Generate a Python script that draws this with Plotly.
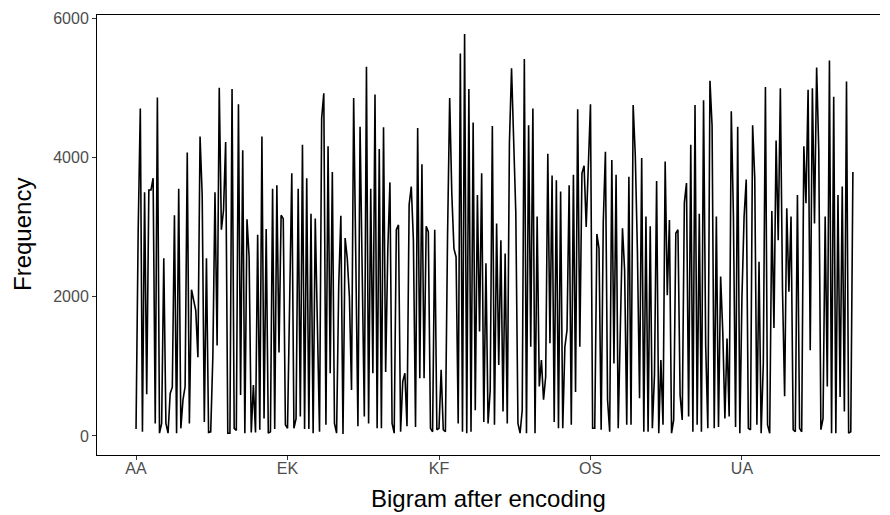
import plotly.graph_objects as go

# frequency of each bigram after encoding, in bigram order
freq_a = [100, 2950, 4700, 60, 3500, 600, 3530, 3530, 3700, 180, 4860, 40, 180, 2550, 180, 40,
          610, 700, 3170, 40, 3550, 110, 520, 710, 4070, 180, 2100, 1950]
freq_b = [1800, 1130, 4300, 3460, 200, 2550, 50, 60, 1140, 3500, 1300, 5000, 2960, 3240, 4220, 40,
          40, 4980, 110, 80, 4760, 590, 4100, 40, 3110, 2570, 50]
freq_c = [730, 50, 2890, 90, 4300, 250, 2970, 40, 60, 3550, 100, 3600, 1200, 3170, 3120, 160,
          110, 2190, 3770, 110, 250, 3550, 280, 4180, 100]
freq_d = [3700, 100, 3190, 40, 3120, 1330, 60, 4560, 4920, 160, 4160, 900, 3790, 180, 40, 2170,
          3160, 30, 2840, 2550, 2000, 660, 4850, 2550, 140, 4440, 2600, 280]
freq_e = [5300, 180, 3550, 900, 4900, 110, 4120, 110, 4430, 920, 2670, 3640, 180, 40, 2960, 3030,
          60, 780, 900, 140, 3320, 3580, 2810, 130, 4420, 830, 3900, 830, 3010, 2930, 110, 60,
          2960, 90, 110, 950]
freq_f = [90, 60, 2860, 4850, 3480, 2690, 2570, 180, 5490, 60, 5770, 40, 4980, 60, 4500, 370,
          3460, 1500, 3770, 200, 2480, 180, 660, 4450, 160]
freq_g = [3050, 1020, 2810, 350, 2620, 180, 4200, 5280, 4060, 3200, 180, 40, 370, 5410, 40, 4460,
          1280, 4700, 40, 3150, 710, 1090, 520, 850, 4050, 1330, 3740, 200, 3670, 110, 3510]
freq_h = [110, 1280, 1520, 3600, 160, 3750, 630, 4690, 1280, 3770, 3880, 3000, 3850, 4760, 110,
          110, 2900, 2690, 90, 3080, 4080, 520, 60, 3960, 1040, 3750, 110, 1430, 2980]
freq_i = [2380, 160, 3720, 160, 4750, 4030, 2650, 540, 3990, 60, 3150, 60, 3010, 110, 880, 3660,
          40, 1090, 160, 3940, 2020, 3100, 40, 230, 2910, 2960, 590, 230, 3350, 3630, 280, 4180, 60]
freq_j = [4750, 160, 3190, 60, 4820, 1300, 110, 5100, 4450, 110, 3150, 130, 2290, 1500, 250, 1400,
          280, 4660, 3150, 130, 4440, 40, 2000, 3150, 3680, 110, 90]
freq_k = [4460, 3700, 160, 2500, 40, 1040, 5010, 160, 40, 3230, 1550, 4240, 2810, 4990, 2100, 570,
          3270, 2070, 3150, 90, 60, 3460, 110, 60, 4160, 3340, 4970, 1230, 4990]
freq_l = [3050, 5290, 4100, 90, 250, 3150, 710, 5390, 40, 4870, 40, 3460, 560, 3580, 350, 5090,
          40, 60, 3790]

frequency = (freq_a + freq_b + freq_c + freq_d + freq_e + freq_f + freq_g + freq_h + freq_i
             + freq_j + freq_k + freq_l)
bigram_pos = list(range(len(frequency)))

# only every 71st bigram gets a label
tick_labels = ["AA", "EK", "KF", "OS", "UA"]
tick_step = 71
tick_pos = [i * tick_step for i in range(len(tick_labels))]

y_ticks = [0, 2000, 4000, 6000]

fig = go.Figure()
fig.add_trace(go.Scatter(x=bigram_pos, y=frequency, mode="lines",
                         line=dict(color="black", width=1.6), showlegend=False))

# page body adds an 8px offset, margins account for it
fig.update_layout(
    width=890, height=515,
    margin=dict(l=89, r=18, t=7, b=68),
    paper_bgcolor="white", plot_bgcolor="white",
    font=dict(family="Liberation Sans, Arial, sans-serif", color="black"),
)
fig.update_xaxes(
    range=[-18.3, 348.7], tickvals=tick_pos, ticktext=tick_labels, automargin=False,
    showgrid=False, zeroline=False, showline=True, linecolor="black", linewidth=1,
    mirror=True, ticks="outside", ticklen=4, tickcolor="#333333", ticklabelstandoff=-5,
    tickfont=dict(size=16, color="#4d4d4d"),
)
fig.update_yaxes(
    range=[-273, 6043], tickvals=y_ticks, automargin=False,
    showgrid=False, zeroline=False, showline=True, linecolor="black", linewidth=1,
    ticks="outside", ticklen=4, tickcolor="#333333",
    tickfont=dict(size=16, color="#4d4d4d"),
)

# axis titles placed as annotations for exact positioning
fig.add_annotation(text="Bigram after encoding", xref="paper", yref="paper",
                   x=0.5, y=-0.098, xanchor="center", yanchor="middle",
                   showarrow=False, font=dict(size=24, color="black"))
fig.add_annotation(text="Frequency", xref="paper", yref="paper", textangle=-90,
                   x=0, y=0.5, xanchor="center", yanchor="middle", xshift=-75,
                   showarrow=False, font=dict(size=24, color="black"))

fig.write_html("out.html")
